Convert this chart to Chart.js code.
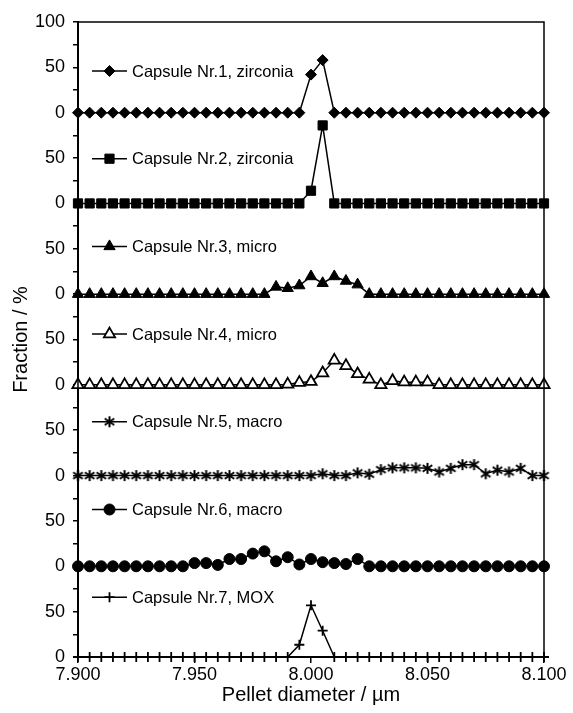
<!DOCTYPE html>
<html>
<head>
<meta charset="utf-8">
<script src="https://cdn.jsdelivr.net/npm/chart.js@4/dist/chart.umd.min.js"></script>
<style>
  html, body { margin: 0; padding: 0; background: #fff; }
  canvas { display: block; }
</style>
</head>
<body>
<canvas id="chart" width="573" height="713"></canvas>
<script>
// pellet diameter classes (um)
const diameters = [
  7.900, 7.905, 7.910, 7.915, 7.920, 7.925, 7.930, 7.935, 7.940, 7.945,
  7.950, 7.955, 7.960, 7.965, 7.970, 7.975, 7.980, 7.985, 7.990, 7.995,
  8.000, 8.005, 8.010, 8.015, 8.020, 8.025, 8.030, 8.035, 8.040, 8.045,
  8.050, 8.055, 8.060, 8.065, 8.070, 8.075, 8.080, 8.085, 8.090, 8.095,
  8.100
];

const capsuleNames = [
  'Capsule Nr.1, zirconia',
  'Capsule Nr.2, zirconia',
  'Capsule Nr.3, micro',
  'Capsule Nr.4, micro',
  'Capsule Nr.5, macro',
  'Capsule Nr.6, macro',
  'Capsule Nr.7, MOX'
];

// fraction in % per diameter class
const capsule1 = [0,0,0,0,0,0,0,0,0,0, 0,0,0,0,0,0,0,0,0,0, 42,58,0,0,0,0,0,0,0,0, 0,0,0,0,0,0,0,0,0,0, 0];
const capsule2 = [0,0,0,0,0,0,0,0,0,0, 0,0,0,0,0,0,0,0,0,0, 14,86,0,0,0,0,0,0,0,0, 0,0,0,0,0,0,0,0,0,0, 0];
const capsule3 = [0,0,0,0,0,0,0,0,0,0, 0,0,0,0,0,0,0,8,6.5,9.5, 19.5,12,19.5,14.5,10.5,0,0,0,0,0, 0,0,0,0,0,0,0,0,0,0, 0];
const capsule4 = [0,0,0,0,0,0,0,0,0,0, 0,0,0,0,0,0,0,0,0.5,2.5, 3.5,13,27,21,12,6,0,4.5,3,3, 3,0,0,0,0,0,0,0,0,0, 0];
const capsule5 = [0,0,0,0,0,0,0,0,0,0, 0,0,0,0,0,0,0,0,0,0, 0,2,0,0,3,1.5,6.5,8.5,8.5,8.5, 8,4,8,12,12,2,6,4,8,0, 0];
const capsule6 = [0,0,0,0,0,0,0,0,0,0, 3.5,3.5,1.5,8,8,14,16.5,5.5,10,2, 8,4.5,3.5,2.5,8,0,0,0,0,0, 0,0,0,0,0,0,0,0,0,0, 0];
const capsule7 = [0,0,0,0,0,0,0,0,0,0, 0,0,0,0,0,0,0,0,0,13.5, 57,29,0,0,0,0,0,0,0,0, 0,0,0,0,0,0,0,0,0,0, 0];

const capsules = [capsule1, capsule2, capsule3, capsule4, capsule5, capsule6, capsule7];

// excel-like asterisk marker (X plus vertical bar)
function makeAsterisk(size) {
  const c = document.createElement('canvas');
  c.width = size; c.height = size;
  const g = c.getContext('2d');
  const h = size / 2, r = size / 2 - 1;
  g.strokeStyle = '#000';
  g.lineWidth = 2;
  g.lineCap = 'butt';
  g.beginPath();
  g.moveTo(h, h - r); g.lineTo(h, h + r);
  g.moveTo(h - r * 0.87, h - r * 0.6); g.lineTo(h + r * 0.87, h + r * 0.6);
  g.moveTo(h - r * 0.87, h + r * 0.6); g.lineTo(h + r * 0.87, h - r * 0.6);
  g.stroke();
  return c;
}
const asterisk = makeAsterisk(13);

// marker look per capsule
const markers = [
  { style: 'rectRot',  radius: 5.5, fill: '#000', bw: 1 },
  { style: 'rect',     radius: 6.5, fill: '#000', bw: 1 },
  { style: 'triangle', radius: 6.5, fill: '#000', bw: 1 },
  { style: 'triangle', radius: 6.5, fill: '#fff', bw: 1.8 },
  { style: asterisk,   radius: 6,   fill: '#000', bw: 1 },
  { style: 'circle',   radius: 5.5, fill: '#000', bw: 1 },
  { style: 'cross',    radius: 5,   fill: '#000', bw: 1.8 }
];

// each capsule is shifted up by 100 on the shared y axis
const bandHeight = 100;
const nBands = capsules.length;

const datasets = capsules.map((vals, i) => {
  const shift = (nBands - 1 - i) * bandHeight;
  const m = markers[i];
  return {
    label: capsuleNames[i],
    data: vals.map((v, k) => ({ x: diameters[k], y: v + shift })),
    borderColor: '#000',
    borderWidth: 1.5,
    pointStyle: m.style,
    pointRadius: m.radius,
    pointBackgroundColor: m.fill,
    pointBorderColor: '#000',
    pointBorderWidth: m.bw,
    clip: false,
    tension: 0
  };
});

// legend inside the plot + frame
const insideLegend = {
  id: 'insideLegend',
  afterDraw(chart) {
    const { ctx, chartArea } = chart;
    ctx.save();
    ctx.strokeStyle = '#000';
    ctx.lineWidth = 1.5;
    ctx.strokeRect(chartArea.left, chartArea.top, chartArea.right - chartArea.left, chartArea.bottom - chartArea.top);

    ctx.font = '16.5px "Liberation Sans", Arial, sans-serif';
    ctx.textBaseline = 'middle';
    ctx.textAlign = 'left';
    capsuleNames.forEach((name, i) => {
      const y = chartArea.top + 49 + i * 87.7;
      const x0 = chartArea.left + 14;
      ctx.beginPath();
      ctx.strokeStyle = '#000';
      ctx.lineWidth = 1.5;
      ctx.moveTo(x0, y);
      ctx.lineTo(x0 + 35, y);
      ctx.stroke();
      const m = markers[i];
      ctx.fillStyle = m.fill;
      ctx.lineWidth = m.bw;
      Chart.helpers.drawPoint(ctx, { pointStyle: m.style, radius: m.radius, rotation: 0, borderWidth: m.bw }, x0 + 17.5, y);
      ctx.fillStyle = '#000';
      ctx.fillText(name, x0 + 40, y + 1);
    });
    ctx.restore();
  }
};

new Chart(document.getElementById('chart'), {
  type: 'line',
  data: { datasets: datasets },
  options: {
    responsive: false,
    animation: false,
    devicePixelRatio: 1,
    layout: { padding: { left: 0, top: 22, right: 29, bottom: 0 } },
    plugins: { legend: { display: false }, tooltip: { enabled: false } },
    scales: {
      x: {
        type: 'linear',
        min: 7.9,
        max: 8.1,
        afterFit: s => { s.height = 56; },
        afterBuildTicks: s => {
          s.ticks = [7.9, 7.95, 8.0, 8.05, 8.1].map(v => ({ value: v }));
        },
        grid: { display: true, drawOnChartArea: false, tickLength: 6, color: '#000', lineWidth: 1.5 },
        border: { color: '#000', width: 2 },
        ticks: {
          color: '#000',
          padding: 1,
          maxRotation: 0,
          font: { family: '"Liberation Sans", Arial, sans-serif', size: 18 },
          callback: v => v.toFixed(3)
        },
        title: {
          display: true,
          text: 'Pellet diameter / \u00b5m',
          color: '#000',
          padding: { top: 0, bottom: 6 },
          font: { family: '"Liberation Sans", Arial, sans-serif', size: 20 }
        }
      },
      y: {
        min: 0,
        max: 700,
        afterFit: s => { s.width = 78; },
        grid: { display: true, drawOnChartArea: false, tickLength: 5, color: '#000', lineWidth: 1.5 },
        border: { color: '#000', width: 2 },
        ticks: {
          stepSize: 25,
          autoSkip: false,
          color: '#000',
          padding: 8,
          font: { family: '"Liberation Sans", Arial, sans-serif', size: 18 },
          callback: v => {
            if (v % 50 !== 0) return '';
            if (v === 700) return '100';
            return v % 100 === 0 ? '0' : '50';
          }
        },
        title: {
          display: true,
          text: 'Fraction / %',
          color: '#000',
          padding: { top: 9, bottom: 0 },
          font: { family: '"Liberation Sans", Arial, sans-serif', size: 20 }
        }
      }
    }
  },
  plugins: [insideLegend]
});
</script>
</body>
</html>
